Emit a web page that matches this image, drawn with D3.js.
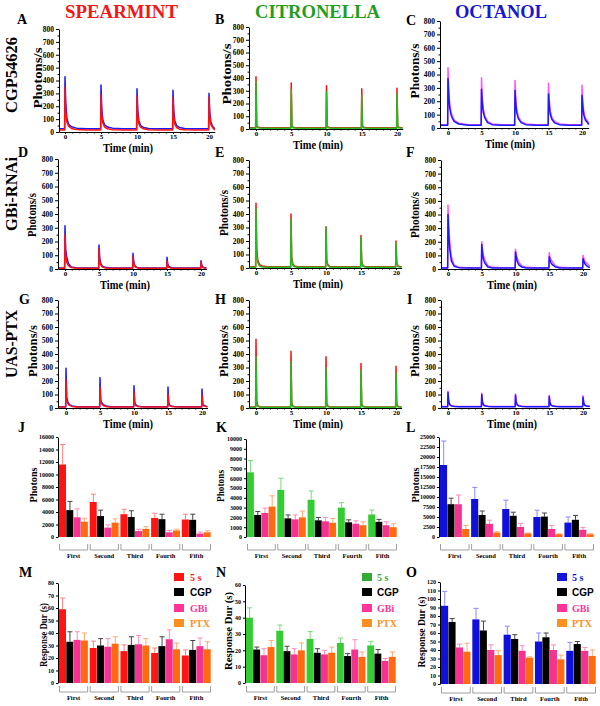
<!DOCTYPE html>
<html><head><meta charset="utf-8">
<script src="https://cdn.jsdelivr.net/npm/d3@7"></script>
<style>body{margin:0;background:#fff}</style>
</head><body>
<script>
// ================= DATA =================
const stimTimes = [0, 5, 10, 15, 20];
const pulseOffsets = [-0.05, 0, 0.1, 0.25, 0.5, 0.9, 1.6, 3.0];

// Spearmint traces
const A_blue = {base:25, end:25, pulses:[[25,430,230,110,60,40,30,25],[25,365,190,95,55,38,30,25],[25,335,175,90,50,35,28,25],[25,325,170,85,50,35,28,25],[25,300,160,80,45,32,26,25]]};
const A_red  = {base:15, end:15, pulses:[[15,350,170,80,45,28,20,15],[15,290,140,70,40,25,18,15],[15,280,135,65,38,25,18,15],[15,270,130,60,35,22,17,15],[15,270,130,60,35,22,17,15]]};
const D_blue = {base:8, end:8, pulses:[[8,315,140,90,40,15,10,8],[8,175,80,40,20,12,8,8],[8,115,55,25,12,8,8,8],[8,85,40,20,12,8,8,8],[8,60,30,15,10,8,8,8]]};
const D_red  = {base:5, end:5, pulses:[[5,250,100,50,25,10,6,5],[5,150,60,30,15,8,5,5],[5,95,40,20,10,6,5,5],[5,60,25,12,8,5,5,5],[5,50,20,10,7,5,5,5]]};
const G_blue = {base:10, end:10, pulses:[[10,295,80,50,25,15,10,10],[10,225,60,40,25,15,10,10],[10,165,45,25,15,12,10,10],[10,155,40,20,15,12,10,10],[10,140,35,20,15,12,10,10]]};
const G_red  = {base:8, end:8, pulses:[[8,210,60,35,20,12,8,8],[8,160,45,30,18,10,8,8],[8,120,35,20,12,10,8,8],[8,105,30,18,12,10,8,8],[8,100,28,16,12,10,8,8]]};
// Citronella traces
const B_red   = {base:10, end:10, pulses:[[10,410,30,15,12,10,10,10],[10,360,25,14,12,10,10,10],[10,340,25,14,12,10,10,10],[10,315,25,14,12,10,10,10],[10,320,25,14,12,10,10,10]]};
const B_green = {base:5, end:5, pulses:[[5,370,20,10,7,5,5,5],[5,310,18,10,7,5,5,5],[5,290,18,10,7,5,5,5],[5,265,16,9,7,5,5,5],[5,275,16,9,7,5,5,5]]};
const E_red   = {base:10, end:10, pulses:[[10,480,150,60,25,15,10,10],[10,400,80,30,15,10,10,10],[10,305,60,25,12,10,10,10],[10,240,50,20,12,10,10,10],[10,200,40,18,12,10,10,10]]};
const E_green = {base:5, end:5, pulses:[[5,440,100,40,15,8,5,5],[5,360,60,20,10,5,5,5],[5,300,50,18,8,5,5,5],[5,225,40,15,8,5,5,5],[5,185,35,12,7,5,5,5]]};
const H_red   = {base:8, end:8, pulses:[[8,510,50,18,10,8,8,8],[8,420,40,15,10,8,8,8],[8,380,35,15,10,8,8,8],[8,330,30,14,10,8,8,8],[8,310,30,14,10,8,8,8]]};
const H_green = {base:5, end:5, pulses:[[5,380,30,12,7,5,5,5],[5,340,25,10,7,5,5,5],[5,300,22,10,7,5,5,5],[5,280,20,10,7,5,5,5],[5,260,20,10,7,5,5,5]]};
// Octanol traces
const C_mag  = {base:25, end:30, pulses:[[25,450,300,180,110,60,35,25],[25,375,250,150,90,50,30,25],[25,355,240,140,85,50,30,25],[25,335,220,130,80,50,30,25],[25,320,210,125,75,45,30,25]]};
const C_blue = {base:20, end:25, pulses:[[20,370,250,150,90,50,30,20],[20,290,200,120,75,40,25,20],[20,280,190,115,70,40,25,20],[20,255,175,105,65,38,25,20],[20,245,170,100,60,35,25,20]]};
const F_mag  = {base:10, end:20, pulses:[[10,470,330,200,90,30,12,10],[10,200,150,100,60,25,12,10],[10,145,110,80,50,25,12,10],[10,120,90,70,50,25,12,10],[10,100,80,60,45,25,12,10]]};
const F_blue = {base:8, end:15, pulses:[[8,400,270,150,60,20,10,8],[8,180,120,70,40,15,8,8],[8,125,90,55,30,15,8,8],[8,90,70,45,30,15,8,8],[8,75,60,40,25,12,8,8]]};
const I_mag  = {base:12, end:12, pulses:[[12,125,60,30,18,14,12,12],[12,110,50,28,18,14,12,12],[12,105,50,28,18,14,12,12],[12,95,45,25,16,14,12,12],[12,90,45,25,16,14,12,12]]};
const I_blue = {base:10, end:10, pulses:[[10,115,50,25,15,12,10,10],[10,100,45,22,15,12,10,10],[10,95,42,22,15,12,10,10],[10,85,40,20,14,12,10,10],[10,80,38,20,14,12,10,10]]};

const traceYTicks = [0,100,200,300,400,500,600,700,800];
const traceXTicks = [0,5,10,15,20];

// Bar charts
const categories = ["First","Second","Third","Fourth","Fifth"];
const groups = ["5 s","CGP","GBi","PTX"];
// Photons (mean, top of error bar), per category: [5 s, CGP, GBi, PTX]
const J_mean = [[11600,4300,3150,2450],[5600,3350,1500,2300],[3650,3200,950,1300],[3050,2850,750,1050],[2800,2750,550,750]];
const J_top  = [[14800,5700,4500,3000],[6850,4300,1950,2900],[4450,4200,1250,1650],[3800,3650,1050,1250],[3650,3650,800,1000]];
const K_mean = [[6600,2250,2450,3100],[4800,1900,1800,2000],[3800,1700,1600,1450],[3000,1500,1350,1200],[2300,1550,1200,1000]];
const K_top  = [[7800,2600,2950,4200],[6000,2250,2250,2650],[4700,2000,2000,1900],[3500,1750,1650,1550],[2750,1800,1550,1350]];
const L_mean = [[18000,8200,8200,2000],[9500,5500,3300,1100],[7000,5300,2500,900],[5000,5100,2000,700],[3600,4300,1800,700]];
const L_top  = [[24000,9700,10500,2900],[12400,6500,4200,1300],[9200,6200,3400,1000],[6700,6000,2900,800],[5000,5400,2400,800]];
// Response duration (s)
const M_mean = [[59,33,34.5,34],[28,30,29,31.5],[25.5,30.5,31,30],[24,29.5,35,27],[22,26.5,29.5,27]];
const M_top  = [[68,41,41,40],[33.5,35.5,35.5,37],[30.5,37,38,35.5],[28,37,42.5,32],[26.5,34,36,33]];
const N_mean = [[40,20.5,17,22],[32,19.5,17.5,20],[27,18.5,17.5,18.5],[24.5,16.5,20.5,16],[23,18,13.5,16]];
const N_top  = [[46,22,21,26],[35.5,22.5,21,24.5],[31.5,21,20,22],[27.5,18,26.5,19],[25.5,20.5,15,19]];
const O_mean = [[92,73,43,38],[76,63,40,34],[58,53,39,31],[50,55,40,29],[39,47,39,33]];
const O_top  = [[109,77,47,48],[89,74,46,39],[68,58,45,32],[60,60,46,34],[49,50,43,40]];

const J_ticks = d3.range(0, 16001, 2000);
const K_ticks = d3.range(0, 10001, 1000);
const L_ticks = d3.range(0, 25001, 2500);
const M_ticks = d3.range(0, 81, 10);
const N_ticks = d3.range(0, 61, 10);
const O_ticks = d3.range(0, 121, 10);

// ================= DRAWING =================
const SERIF = "'Liberation Serif','Times New Roman',serif";
const SANS = "'Liberation Sans',Arial,sans-serif";
const svg = d3.select("body").append("svg").attr("width", 600).attr("height", 706)
  .style("background", "#fff");

function txt(x, y, s, o = {}) {
  const t = svg.append("text").attr("x", x).attr("y", y).text(s)
    .attr("font-family", o.family || SERIF).attr("font-weight", "bold")
    .attr("font-size", o.size || 12).attr("fill", o.fill || "#000")
    .attr("text-anchor", o.anchor || "start");
  if (o.len) t.attr("textLength", o.len).attr("lengthAdjust", "spacingAndGlyphs");
  return t;
}
function vtxt(cx, cy, s, o = {}) {
  const t = svg.append("text").attr("transform", `translate(${cx},${cy}) rotate(-90)`).text(s)
    .attr("font-family", o.family || SERIF).attr("font-weight", "bold")
    .attr("font-size", o.size || 12).attr("fill", o.fill || "#000")
    .attr("text-anchor", "middle");
  if (o.len) t.attr("textLength", o.len).attr("lengthAdjust", "spacingAndGlyphs");
  return t;
}

function tracePanel(p) {
  const xs = d3.scaleLinear().domain([0, 20]).range([p.x0, p.x20]);
  const tStart = xs.invert(p.axisX);
  const xa = xs.copy().domain([tStart, p.tEnd]).range([p.axisX, xs(p.tEnd)]);
  const ys = d3.scaleLinear().domain([0, 800]).range([p.y0, p.y800]);
  const g = svg.append("g");
  const line = d3.line().x(d => xa(d[0])).y(d => ys(d[1]));
  p.series.forEach(s => {
    const pts = [[tStart + 0.1, s.data.base]];
    s.data.pulses.forEach((pv, k) => pv.forEach((v, i) => {
      const t = stimTimes[k] + pulseOffsets[i];
      if (t < p.tEnd) pts.push([t, v]);
    }));
    pts.push([p.tEnd, s.data.end]);
    g.append("path").attr("d", line(pts)).attr("fill", "none")
      .attr("stroke", s.color).attr("stroke-width", 1.5).attr("stroke-linejoin", "round");
  });
  // y axis
  const yAx = g.append("g").attr("transform", `translate(${p.axisX},0)`)
    .call(d3.axisLeft(ys).tickValues(traceYTicks).tickSize(3).tickSizeOuter(0).tickPadding(2));
  yAx.selectAll("text").attr("font-family", SERIF).attr("font-weight", "bold").attr("font-size", 7.5);
  g.append("g").attr("transform", `translate(${p.axisX},0)`)
    .call(d3.axisLeft(ys).tickValues(d3.range(50, 800, 100)).tickSize(1.5).tickFormat(""))
    .select(".domain").remove();
  // x axis
  const xAx = g.append("g").attr("transform", `translate(0,${p.y0})`)
    .call(d3.axisBottom(xa).tickValues(traceXTicks).tickSize(2).tickSizeOuter(0).tickPadding(0));
  xAx.selectAll("text").attr("font-family", SERIF).attr("font-weight", "bold").attr("font-size", 7);
  g.append("g").attr("transform", `translate(0,${p.y0})`)
    .call(d3.axisBottom(xa).tickValues(d3.range(0, 21, 1).filter(v => v % 5 !== 0)).tickSize(1.5).tickFormat(""))
    .select(".domain").remove();
  g.selectAll(".domain, .tick line").attr("stroke", "#000");
  // labels
  vtxt(p.ylabX, p.ylabY, "Photons/s", {size: p.ylabSize, len: p.ylabLen});
  txt(p.tlabX, p.y0 + 19.5, "Time (min)", {size: 12, anchor: "middle", len: 50});
}

function barPanel(p) {
  const x0 = d3.scaleBand().domain(categories).range([p.left, p.right]).paddingInner(0.05).paddingOuter(0);
  const x1 = d3.scaleBand().domain(groups).range([0, x0.bandwidth()]).padding(0);
  const y = d3.scaleLinear().domain([0, p.max]).range([p.yBot, p.yTop]);
  const g = svg.append("g");
  categories.forEach((c, ci) => {
    groups.forEach((s, si) => {
      const bx = x0(c) + x1(s), bw = x1.bandwidth();
      const m = p.mean[ci][si], tp = p.top[ci][si];
      g.append("line").attr("x1", bx + bw / 2).attr("x2", bx + bw / 2)
        .attr("y1", y(m)).attr("y2", y(tp)).attr("stroke", p.errColors[si]).attr("stroke-width", 1);
      g.append("line").attr("x1", bx + bw / 2 - 2.5).attr("x2", bx + bw / 2 + 2.5)
        .attr("y1", y(tp)).attr("y2", y(tp)).attr("stroke", p.errColors[si]).attr("stroke-width", 1);
      g.append("rect").attr("x", bx).attr("y", y(m)).attr("width", bw - 0.3)
        .attr("height", y(0) - y(m)).attr("fill", p.colors[si]);
    });
    // bracket
    const bl = x0(c) + 0.5, br = x0(c) + x0.bandwidth() - 0.5;
    g.append("path").attr("d", `M${bl},${p.brTop}V${p.brBot}H${br}V${p.brTop}`)
      .attr("fill", "none").attr("stroke", "#888").attr("stroke-width", 0.8);
    txt((bl + br) / 2, p.catY, c, {size: 6.5, anchor: "middle"});
  });
  const yAx = g.append("g").attr("transform", `translate(${p.left - 1},0)`)
    .call(d3.axisLeft(y).tickValues(p.ticks).tickFormat(d3.format("d")).tickSize(2).tickSizeOuter(0).tickPadding(2));
  yAx.selectAll("text").attr("font-family", SERIF).attr("font-weight", "bold").attr("font-size", 6);
  yAx.selectAll(".domain, .tick line").attr("stroke", "#000");
  vtxt(p.ylabX, p.ylabY, p.ylab, {size: 10, len: p.ylabLen});
}

function legend(x, tx, ys, colors, txtColors) {
  const families = [SERIF, SANS, SERIF, SERIF];
  groups.forEach((gname, i) => {
    svg.append("rect").attr("x", x).attr("y", ys[i] - 8).attr("width", 10).attr("height", 8).attr("fill", colors[i]);
    txt(tx, ys[i], gname, {size: 10, family: families[i], fill: txtColors[i]});
  });
}

// ---- titles & labels ----
txt(65, 18, "SPEARMINT", {size: 18, fill: "#f01818", len: 113});
txt(255, 18, "CITRONELLA", {size: 18, fill: "#1f9e1f", len: 125});
txt(455, 18, "OCTANOL", {size: 18, fill: "#1818d0", len: 92});
vtxt(17, 75, "CGP54626", {size: 16.5, len: 76});
vtxt(17, 194, "GBi-RNAi", {size: 16.5, len: 74});
vtxt(17, 344, "UAS-PTX", {size: 16.5, len: 68});

const letters = [["A",17,24],["B",215,24],["C",406,25],["D",18,157],["E",215,157],["F",406,157],
  ["G",19,304],["H",215,304],["I",407,304],["J",18,432],["K",216,432],["L",406,432],
  ["M",19,577],["N",216,577],["O",406,577]];
letters.forEach(([l, x, y]) => txt(x, y, l, {size: 14}));

// ---- traces ----
const RED = "#ff1010", BLUE = "#1a1aff", GREEN = "#22bb22", MAG = "#ff55ff";
tracePanel({x0: 65, x20: 209, axisX: 59, tEnd: 20.8, y800: 29, y0: 132, series: [{data: A_blue, color: BLUE}, {data: A_red, color: RED}],
  ylabX: 42, ylabY: 78, ylabSize: 13.5, ylabLen: 61, tlabX: 128});
tracePanel({x0: 256, x20: 397, axisX: 249, tEnd: 20.8, y800: 27, y0: 129, series: [{data: B_red, color: RED}, {data: B_green, color: GREEN}],
  ylabX: 231, ylabY: 74, ylabSize: 13, ylabLen: 61, tlabX: 318});
tracePanel({x0: 448, x20: 582, axisX: 440, tEnd: 21, y800: 21, y0: 128, series: [{data: C_mag, color: MAG}, {data: C_blue, color: BLUE}],
  ylabX: 419, ylabY: 71, ylabSize: 13, ylabLen: 55, tlabX: 510});

tracePanel({x0: 65, x20: 201, axisX: 58, tEnd: 20.8, y800: 159, y0: 269, series: [{data: D_blue, color: BLUE}, {data: D_red, color: RED}],
  ylabX: 36, ylabY: 215, ylabSize: 11.5, ylabLen: 44, tlabX: 125});
tracePanel({x0: 256, x20: 396, axisX: 249, tEnd: 20.8, y800: 160, y0: 268, series: [{data: E_red, color: RED}, {data: E_green, color: GREEN}],
  ylabX: 228, ylabY: 213, ylabSize: 11.5, ylabLen: 46, tlabX: 318});
tracePanel({x0: 448, x20: 583, axisX: 441, tEnd: 21, y800: 160, y0: 269, series: [{data: F_mag, color: MAG}, {data: F_blue, color: BLUE}],
  ylabX: 419, ylabY: 215, ylabSize: 11.5, ylabLen: 46, tlabX: 512});

tracePanel({x0: 66, x20: 202, axisX: 58, tEnd: 20.8, y800: 300, y0: 408, series: [{data: G_blue, color: BLUE}, {data: G_red, color: RED}],
  ylabX: 37, ylabY: 351, ylabSize: 12.5, ylabLen: 52, tlabX: 128});
tracePanel({x0: 256, x20: 396, axisX: 249, tEnd: 20.8, y800: 300, y0: 408, series: [{data: H_red, color: RED}, {data: H_green, color: GREEN}],
  ylabX: 228, ylabY: 351, ylabSize: 12.5, ylabLen: 52, tlabX: 318});
tracePanel({x0: 448, x20: 583, axisX: 441, tEnd: 21, y800: 300, y0: 408, series: [{data: I_mag, color: MAG}, {data: I_blue, color: BLUE}],
  ylabX: 419, ylabY: 351, ylabSize: 12.5, ylabLen: 52, tlabX: 512});

// ---- bars ----
const PINK = "#f5338f", ORANGE = "#ff6a10", BLACK = "#000";
const errPink = "#ff88c0", errOrange = "#ffaa70", errBlack = "#444";
barPanel({left: 59, right: 211, yTop: 437, yBot: 537, max: 16000, ticks: J_ticks, mean: J_mean, top: J_top,
  colors: ["#ff1414", BLACK, PINK, ORANGE], errColors: ["#ff8080", errBlack, errPink, errOrange],
  brTop: 544, brBot: 550, catY: 558, ylabX: 37, ylabY: 485, ylab: "Photons", ylabLen: 35});
barPanel({left: 247, right: 397, yTop: 439, yBot: 537, max: 10000, ticks: K_ticks, mean: K_mean, top: K_top,
  colors: ["#33cc33", BLACK, PINK, ORANGE], errColors: ["#77dd77", errBlack, errPink, errOrange],
  brTop: 544, brBot: 550, catY: 558, ylabX: 224, ylabY: 486, ylab: "Photons", ylabLen: 32});
barPanel({left: 440, right: 594, yTop: 437, yBot: 537, max: 25000, ticks: L_ticks, mean: L_mean, top: L_top,
  colors: ["#1010dd", BLACK, PINK, ORANGE], errColors: ["#8888ff", errBlack, errPink, errOrange],
  brTop: 544, brBot: 550, catY: 558, ylabX: 419, ylabY: 485, ylab: "Photons", ylabLen: 35});

barPanel({left: 59, right: 211, yTop: 583, yBot: 683, max: 80, ticks: M_ticks, mean: M_mean, top: M_top,
  colors: ["#ff1414", BLACK, PINK, ORANGE], errColors: ["#ff8080", errBlack, errPink, errOrange],
  brTop: 686, brBot: 692, catY: 700, ylabX: 47, ylabY: 635, ylab: "Response Dur (s)", ylabLen: 64});
barPanel({left: 246, right: 396, yTop: 585, yBot: 683, max: 60, ticks: N_ticks, mean: N_mean, top: N_top,
  colors: ["#33cc33", BLACK, PINK, ORANGE], errColors: ["#77dd77", errBlack, errPink, errOrange],
  brTop: 686, brBot: 692, catY: 700, ylabX: 232, ylabY: 631, ylab: "Response Dur (s)", ylabLen: 78});
barPanel({left: 441, right: 596, yTop: 582, yBot: 684, max: 120, ticks: O_ticks, mean: O_mean, top: O_top,
  colors: ["#1010dd", BLACK, PINK, ORANGE], errColors: ["#8888ff", errBlack, errPink, errOrange],
  brTop: 687, brBot: 693, catY: 701, ylabX: 425, ylabY: 632, ylab: "Response Dur (s)", ylabLen: 71});

const legYs = [581, 596, 612, 627];
legend(174, 190, legYs, ["#ff1414", BLACK, "#ff3399", "#ff9020"], ["#ff1414", BLACK, "#ff3399", "#ff9020"]);
legend(362, 377, legYs, ["#33aa33", BLACK, "#ff3399", "#ff9020"], ["#33aa33", BLACK, "#ff3399", "#ff9020"]);
legend(557, 572, legYs, ["#1414dd", BLACK, "#ff3399", "#ff9020"], ["#1414dd", BLACK, "#ff3399", "#ff9020"]);
</script>
</body></html>
